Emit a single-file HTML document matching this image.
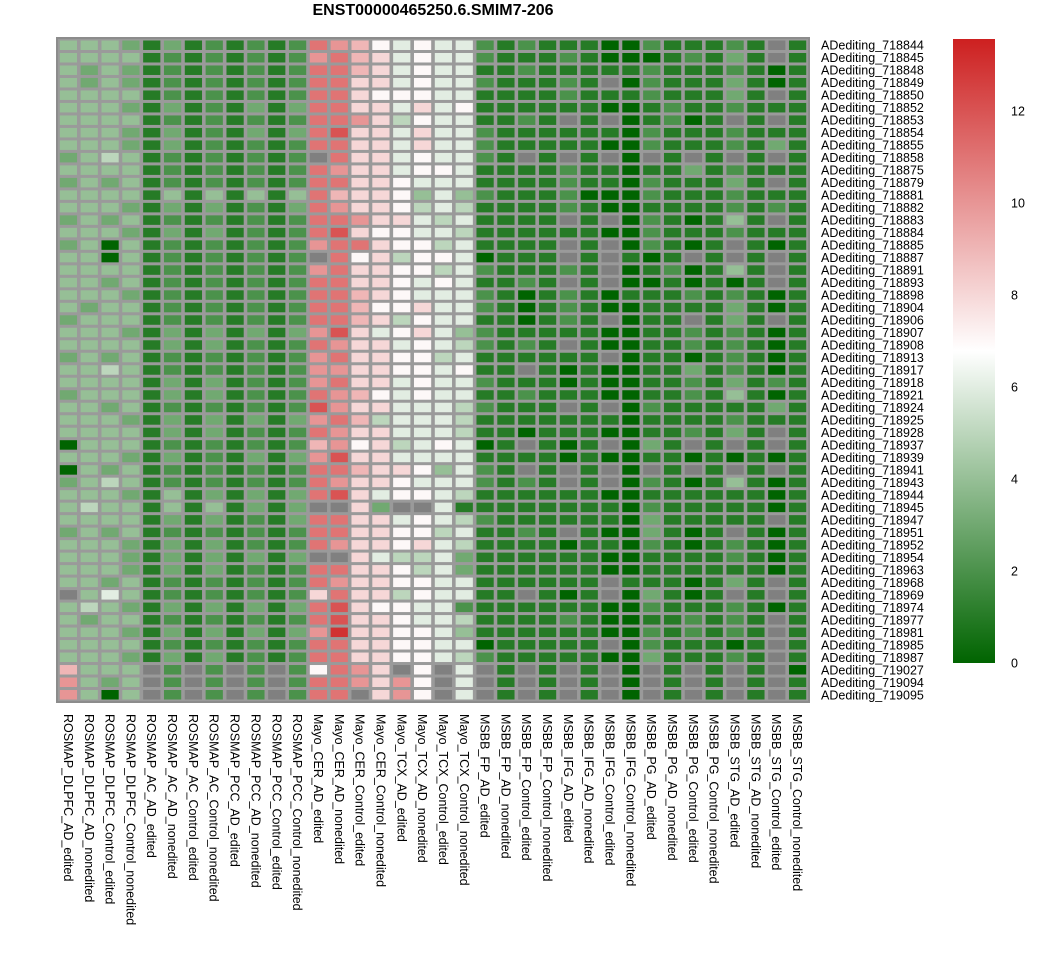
<!DOCTYPE html>
<html><head><meta charset="utf-8"><style>
html,body{margin:0;padding:0;background:#fff;}
svg{display:block;font-family:"Liberation Sans",sans-serif;}
</style></head><body>
<svg id="chart" width="1059" height="953" viewBox="0 0 1059 953" xmlns="http://www.w3.org/2000/svg">
<text x="433" y="15" text-anchor="middle" font-size="16" font-weight="bold">ENST00000465250.6.SMIM7-206</text>
<defs><linearGradient id="cg" x1="0" y1="1" x2="0" y2="0">
<stop offset="0" stop-color="#006400"/><stop offset="0.5" stop-color="#ffffff"/><stop offset="1" stop-color="#cd2020"/></linearGradient></defs>
<rect x="953" y="39" width="42" height="624" fill="url(#cg)"/>
<g id="hm"></g><g id="rl"></g><g id="cl"></g><g id="lt"></g>
</svg>
<script>
const columns=["ROSMAP_DLPFC_AD_edited","ROSMAP_DLPFC_AD_nonedited","ROSMAP_DLPFC_Control_edited","ROSMAP_DLPFC_Control_nonedited","ROSMAP_AC_AD_edited","ROSMAP_AC_AD_nonedited","ROSMAP_AC_Control_edited","ROSMAP_AC_Control_nonedited","ROSMAP_PCC_AD_edited","ROSMAP_PCC_AD_nonedited","ROSMAP_PCC_Control_edited","ROSMAP_PCC_Control_nonedited","Mayo_CER_AD_edited","Mayo_CER_AD_nonedited","Mayo_CER_Control_edited","Mayo_CER_Control_nonedited","Mayo_TCX_AD_edited","Mayo_TCX_AD_nonedited","Mayo_TCX_Control_edited","Mayo_TCX_Control_nonedited","MSBB_FP_AD_edited","MSBB_FP_AD_nonedited","MSBB_FP_Control_edited","MSBB_FP_Control_nonedited","MSBB_IFG_AD_edited","MSBB_IFG_AD_nonedited","MSBB_IFG_Control_edited","MSBB_IFG_Control_nonedited","MSBB_PG_AD_edited","MSBB_PG_AD_nonedited","MSBB_PG_Control_edited","MSBB_PG_Control_nonedited","MSBB_STG_AD_edited","MSBB_STG_AD_nonedited","MSBB_STG_Control_edited","MSBB_STG_Control_nonedited"];
const rows=["ADediting_718844","ADediting_718845","ADediting_718848","ADediting_718849","ADediting_718850","ADediting_718852","ADediting_718853","ADediting_718854","ADediting_718855","ADediting_718858","ADediting_718875","ADediting_718879","ADediting_718881","ADediting_718882","ADediting_718883","ADediting_718884","ADediting_718885","ADediting_718887","ADediting_718891","ADediting_718893","ADediting_718898","ADediting_718904","ADediting_718906","ADediting_718907","ADediting_718908","ADediting_718913","ADediting_718917","ADediting_718918","ADediting_718921","ADediting_718924","ADediting_718925","ADediting_718928","ADediting_718937","ADediting_718939","ADediting_718941","ADediting_718943","ADediting_718944","ADediting_718945","ADediting_718947","ADediting_718951","ADediting_718952","ADediting_718954","ADediting_718963","ADediting_718968","ADediting_718969","ADediting_718974","ADediting_718977","ADediting_718981","ADediting_718985","ADediting_718987","ADediting_719027","ADediting_719094","ADediting_719095"];
// values: one char per cell, base-36 digit = value, 'n' = NA
const valuesLeft=["444313121212ba976766","444412121212ab986766","434312121212bb986766","434312121212bb886766","444412121212bb877766","444313121313bb886867","444412121212bba85766","444313121313bc886866","444313121212bb886866","345412121212nb886766","444412121212ba886776","343412121212bb887666","444414141414b9887464","444313131213ba887565","343412121212bba88656","444313131212bc877665","340412121212abb87756","440412121212nb785776","444412121212ab887756","443412121212bb887676","444312121212bb987666","434412121212bb977866","344412121212bb985766","444313131313ac867864","444413131212ba886765","343412121212ab887756","445412121212aa887767","444413131212ab886766","344413131212ba976766","443412121212ca886665","444313131313ab956665","444413131212ba886665","0444121212129a785676","444313121313ac886666","043412121212bb988746","345412121212ba887666","444314131313bc867765","454414141313nn83nn61","444413131213bb886765","343412121212bb887756","444313131212ba887865","444313131313nn865563","444313131212bb887563","443412121212ba887766","n464121212128b885766","454313131313bc877662","434412121212bc887665","444313131313ad887764","444412121212bb887766","444313131212bb887765","9444n2n2n2n27ba8n7n6","a434n2n2n2n2bba8a7n6","a404n2n2n2n2bbn8a7n6"];
const valuesRight=["21211100211121n1","21112100012131n1","1121111121112101","211121n021113101","11112111211131n1","1111110012112111","1121n1n01201n1n1","2111111021112111","2111110021112131","21n1n1n0n1n1n1n1","1111211011312111","11112110211131n1","2111200021112111","1111210011112121","1111n1n0210141n1","1111110021112111","1111n1n02101n101","0111n1n101n1n1n1","211121n0120141n1","1121n1n0010101n1","2101210111212101","2101210011113101","110121n011n131n1","2111110011212101","2121n10011212101","111111n011012101","11n1010011312101","2111010011213121","1121110011214101","2111n1n021111131","1111111011112111","11011100112131n1","01n101n031n1n1n1","1111010011010101","21n1n1n0n1n1n1n1","2121n1n021014101","1111110011111101","1111111021111101","21111110311111n1","1121n1003101n101","1111011021012101","1111110011112101","1111110011111101","111111n1110131n1","11n101n03101n1n1","1111110021112101","11112100112121n1","11111100212121n1","011111n0211101n1","21111100311121n1","n1n1n1n0n1n1n1n0","n1n1n1n0n1n1n1n1","n1n1n1n0n1n1n1n1"];
const legendTicks=[0,2,4,6,8,10,12];
const vMin=0, vMax=13.56;
const NS="http://www.w3.org/2000/svg";
const X0=58,X1=808,Y0=39,Y1=701;
const cw=(X1-X0)/columns.length, rh=(Y1-Y0)/rows.length;
function xPos(c){return X0+c*cw;}
function yPos(r){return Y0+r*rh;}
function legendY(v){return 663-(v-vMin)/(vMax-vMin)*624;}
function lerp(a,b,t){return Math.round(a+(b-a)*t);}
function color(v){const mid=(vMin+vMax)/2;
 if(v<=mid){const t=(v-vMin)/(mid-vMin);return `rgb(${lerp(0,255,t)},${lerp(100,255,t)},${lerp(0,255,t)})`;}
 const t=(v-mid)/(vMax-mid);return `rgb(${lerp(255,205,t)},${lerp(255,32,t)},${lerp(255,32,t)})`;}
function mk(tag,attrs,parent){const e=document.createElementNS(NS,tag);for(const k in attrs)e.setAttribute(k,attrs[k]);parent.appendChild(e);return e;}
const hm=document.getElementById('hm');
const bg=mk('rect',{x:X0-1,y:Y0-1,width:X1-X0+2,height:Y1-Y0+2,fill:'#9a9a9a',stroke:'#8c8c8c','stroke-width':2},hm);


for(let r=0;r<rows.length;r++){
 const s=valuesLeft[r]+valuesRight[r];
 for(let c=0;c<columns.length;c++){
  const ch=s[c];
  const fill=ch==='n'?'#808080':color(parseInt(ch,36));
  const cell=mk('rect',{x:(xPos(c)+1.8).toFixed(2),y:(yPos(r)+1.5).toFixed(2),width:(cw-3.6).toFixed(2),height:(rh-3).toFixed(2),fill:fill},hm);
  
  
 }
}
const rl=document.getElementById('rl');
rows.forEach((n,i)=>{const t=mk('text',{x:821,y:(yPos(i)+rh/2+4.5).toFixed(1),'font-size':12.5},rl);t.textContent=n;
 
 });
const cl=document.getElementById('cl');
columns.forEach((n,i)=>{const x=xPos(i)+cw/2-4.5;const t=mk('text',{x:0,y:0,'font-size':12.5,transform:`translate(${x.toFixed(1)},714) rotate(90)`},cl);t.textContent=n;
 
 });
const lt=document.getElementById('lt');
legendTicks.forEach(v=>{const t=mk('text',{x:1011,y:(legendY(v)+4.5).toFixed(1),'font-size':12.5},lt);t.textContent=v;
 
 });
</script>
</body></html>
